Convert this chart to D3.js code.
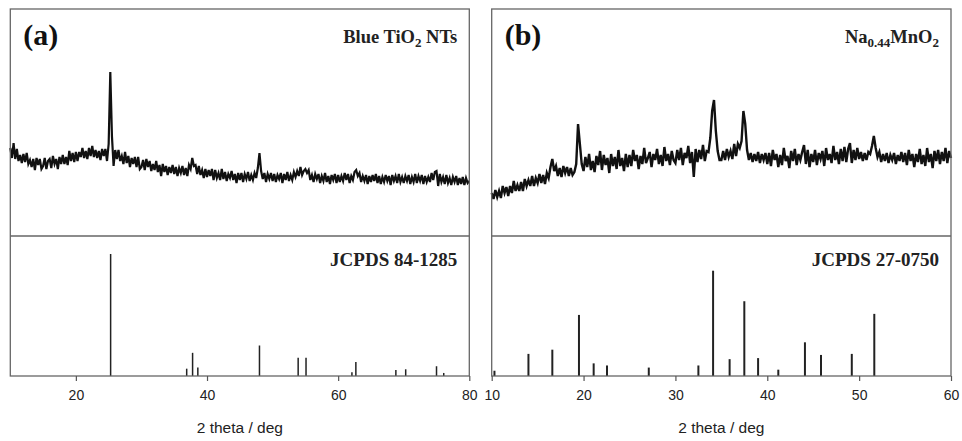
<!DOCTYPE html>
<html>
<head>
<meta charset="utf-8">
<script src="https://cdn.jsdelivr.net/npm/d3@7/dist/d3.min.js"></script>
<style>
  body { margin: 0; background: #fff; }
  .tick text { font-family: "Liberation Sans", Arial, sans-serif; font-size: 14px; fill: #222; }
  .tick line { stroke: #555; stroke-width: 1.2; }
</style>
</head>
<body>
<svg id="chart" width="962" height="441"></svg>
<script>
// measured scans (2 theta start, step) and intensity in a.u.
const scanA = {start: 10, step: 0.25};
const intensityA = [
  88, 78, 93, 77, 87, 75, 81, 73, 82, 74, 83, 72, 76, 69, 77, 66, 78, 71, 77, 67,
  70, 78, 67, 75, 77, 68, 80, 72, 77, 67, 79, 72, 81, 72, 79, 71, 85, 75, 83, 74,
  84, 75, 84, 79, 88, 78, 85, 77, 88, 80, 90, 79, 86, 78, 85, 76, 87, 80, 87, 75,
  92, 164, 100, 70, 86, 77, 86, 75, 80, 72, 84, 73, 80, 69, 78, 72, 79, 69, 79, 67,
  69, 76, 66, 77, 69, 75, 65, 72, 66, 75, 64, 71, 60, 72, 64, 70, 61, 69, 63, 71,
  62, 69, 60, 68, 63, 70, 61, 68, 60, 71, 67, 78, 70, 71, 62, 70, 61, 66, 58, 67,
  59, 66, 60, 67, 56, 66, 58, 63, 56, 67, 57, 64, 55, 62, 58, 65, 56, 62, 53, 63,
  56, 63, 54, 62, 57, 64, 55, 61, 56, 63, 58, 68, 83, 65, 57, 63, 54, 62, 57, 63,
  55, 62, 54, 61, 57, 63, 53, 62, 56, 64, 55, 61, 56, 64, 59, 65, 60, 69, 61, 65,
  67, 63, 66, 56, 61, 54, 62, 57, 62, 53, 60, 55, 63, 54, 60, 52, 61, 56, 62, 53,
  61, 54, 60, 55, 63, 56, 62, 53, 60, 56, 64, 66, 60, 63, 54, 60, 55, 61, 52, 60,
  54, 61, 55, 62, 53, 60, 52, 59, 54, 61, 55, 60, 51, 61, 55, 60, 53, 62, 54, 59,
  53, 60, 55, 61, 52, 59, 54, 62, 53, 60, 55, 61, 52, 60, 54, 59, 54, 63, 56, 64,
  65, 50, 62, 54, 59, 52, 61, 53, 58, 51, 59, 54, 60, 51, 58, 52, 59, 51, 58, 53,
  55
];
const scanB = {start: 10, step: 0.2};
const intensityB = [
  43, 37, 46, 39, 45, 38, 50, 43, 49, 40, 50, 43, 55, 45, 51, 45, 54, 45, 57, 50, 56, 50, 60, 50, 58,
  53, 62, 53, 61, 52, 63, 58, 69, 77, 65, 70, 60, 68, 59, 70, 63, 69, 60, 68, 61, 64, 72, 112, 92, 72,
  65, 79, 69, 82, 66, 75, 64, 80, 71, 85, 66, 81, 71, 78, 63, 82, 70, 79, 67, 86, 70, 78, 65, 82, 69,
  81, 70, 86, 75, 81, 67, 80, 72, 88, 73, 78, 84, 69, 82, 76, 87, 72, 81, 70, 89, 75, 82, 71, 85, 76,
  73, 86, 76, 88, 71, 83, 78, 90, 73, 84, 59, 87, 74, 86, 77, 91, 75, 85, 84, 98, 125, 136, 105, 85, 76,
  76, 85, 76, 87, 79, 85, 77, 92, 80, 92, 88, 95, 125, 112, 86, 76, 83, 74, 82, 75, 84, 73, 82, 76, 83,
  72, 83, 70, 86, 76, 82, 69, 81, 71, 88, 75, 80, 68, 85, 75, 87, 71, 82, 76, 84, 91, 72, 86, 69, 82,
  74, 86, 71, 83, 77, 85, 70, 88, 76, 82, 73, 90, 76, 84, 72, 87, 75, 89, 74, 87, 93, 73, 86, 76, 88,
  77, 84, 75, 83, 76, 84, 82, 90, 100, 88, 79, 84, 74, 82, 75, 83, 73, 81, 76, 83, 72, 81, 75, 84, 74,
  83, 71, 86, 75, 82, 69, 82, 74, 87, 72, 81, 70, 88, 74, 82, 68, 85, 75, 86, 72, 84, 75, 88, 73, 85,
  78
];

// reference patterns (2 theta, relative intensity)
const refPosA = [25.3, 36.9, 37.8, 38.6, 48.0, 53.9, 55.1, 62.1, 62.7, 68.8, 70.3, 75.0, 76.1];
const refIntA = [100, 6, 19, 7, 25, 15, 15, 3, 11.5, 5, 5.5, 8, 2.5];
const refPosB = [10.3, 14.0, 16.6, 19.5, 21.1, 22.55, 27.1, 32.5, 34.1, 35.9, 37.5, 39.0, 41.2, 44.1, 45.85, 49.2, 51.65];
const refIntB = [5, 21, 25, 58, 12, 10, 8, 10, 100, 16, 71, 17, 6, 32, 20, 21, 59];

const ticksA = [20, 40, 60, 80];
const ticksB = [10, 20, 30, 40, 50, 60];

const topY = 9, midY = 236, axisY = 376;

var svg = d3.select("#chart");

function drawPanel(p) {
  var x = d3.scaleLinear().domain(p.domain).range([p.left, p.right]);
  var yTop = d3.scaleLinear().domain([0, 227]).range([midY, topY]);
  var yRef = d3.scaleLinear().domain([0, 100]).range([axisY, axisY - p.refPx]);

  var g = svg.append("g");

  // measured pattern
  var line = d3.line()
      .x(function (d, i) { return x(p.scan.start + i * p.scan.step); })
      .y(function (d) { return yTop(d); });
  g.append("path")
      .datum(p.data)
      .attr("fill", "none")
      .attr("stroke", "#111")
      .attr("stroke-width", p.lineW)
      .attr("stroke-linejoin", "miter")
      .attr("d", line);

  // reference sticks
  g.selectAll(".stick")
      .data(p.refPos)
    .enter().append("line")
      .attr("x1", function (d) { return x(d); })
      .attr("x2", function (d) { return x(d); })
      .attr("y1", axisY)
      .attr("y2", function (d, i) { return yRef(p.refInt[i]); })
      .attr("stroke", "#222")
      .attr("stroke-width", p.stickW);

  // frame and divider
  g.append("rect")
      .attr("x", p.left).attr("y", topY)
      .attr("width", p.right - p.left).attr("height", axisY - topY)
      .attr("fill", "none").attr("stroke", "#666").attr("stroke-width", 1.3);
  g.append("line")
      .attr("x1", p.left).attr("x2", p.right)
      .attr("y1", midY).attr("y2", midY)
      .attr("stroke", "#666").attr("stroke-width", 1.3);

  // x axis
  var ax = g.append("g")
      .attr("transform", "translate(0," + axisY + ")")
      .call(d3.axisBottom(x).tickValues(p.ticks).tickSize(5).tickSizeOuter(0).tickPadding(9));
  ax.select(".domain").remove();

  g.append("text")
      .attr("x", (p.left + p.right) / 2).attr("y", 433)
      .attr("text-anchor", "middle")
      .style("font-family", "Liberation Sans, Arial, sans-serif")
      .style("font-size", "15.5px").style("fill", "#222")
      .text("2 theta / deg");

  // labels
  g.append("text")
      .attr("x", p.left + 13).attr("y", 45)
      .style("font-family", "Liberation Serif, Times New Roman, serif")
      .style("font-weight", "bold").style("font-size", "30px").style("fill", "#111")
      .text(p.letter);

  var t = g.append("text")
      .attr("x", p.right - 12).attr("y", 43)
      .attr("text-anchor", "end")
      .style("font-family", "Liberation Serif, Times New Roman, serif")
      .style("font-weight", "bold").style("font-size", "18.5px").style("fill", "#222");
  p.sample.forEach(function (s) {
    var ts = t.append("tspan").text(s.t);
    if (s.sub) ts.attr("baseline-shift", "-4").style("font-size", "13px");
  });

  g.append("text")
      .attr("x", p.right - 12).attr("y", 266)
      .attr("text-anchor", "end")
      .style("font-family", "Liberation Serif, Times New Roman, serif")
      .style("font-weight", "bold").style("font-size", "19px").style("fill", "#222")
      .text(p.card);
}

drawPanel({
  domain: [10, 80], left: 10.3, right: 469.3, scan: scanA, data: intensityA,
  refPos: refPosA, refInt: refIntA, refPx: 122, stickW: 1.5, lineW: 2.2, ticks: ticksA,
  letter: "(a)", card: "JCPDS 84-1285",
  sample: [{t: "Blue TiO"}, {t: "2", sub: true}, {t: " NTs"}]
});

drawPanel({
  domain: [10, 60], left: 491.7, right: 951, scan: scanB, data: intensityB,
  refPos: refPosB, refInt: refIntB, refPx: 105.3, stickW: 2, lineW: 2.4, ticks: ticksB,
  letter: "(b)", card: "JCPDS 27-0750",
  sample: [{t: "Na"}, {t: "0.44", sub: true}, {t: "MnO"}, {t: "2", sub: true}]
});
</script>
</body>
</html>
